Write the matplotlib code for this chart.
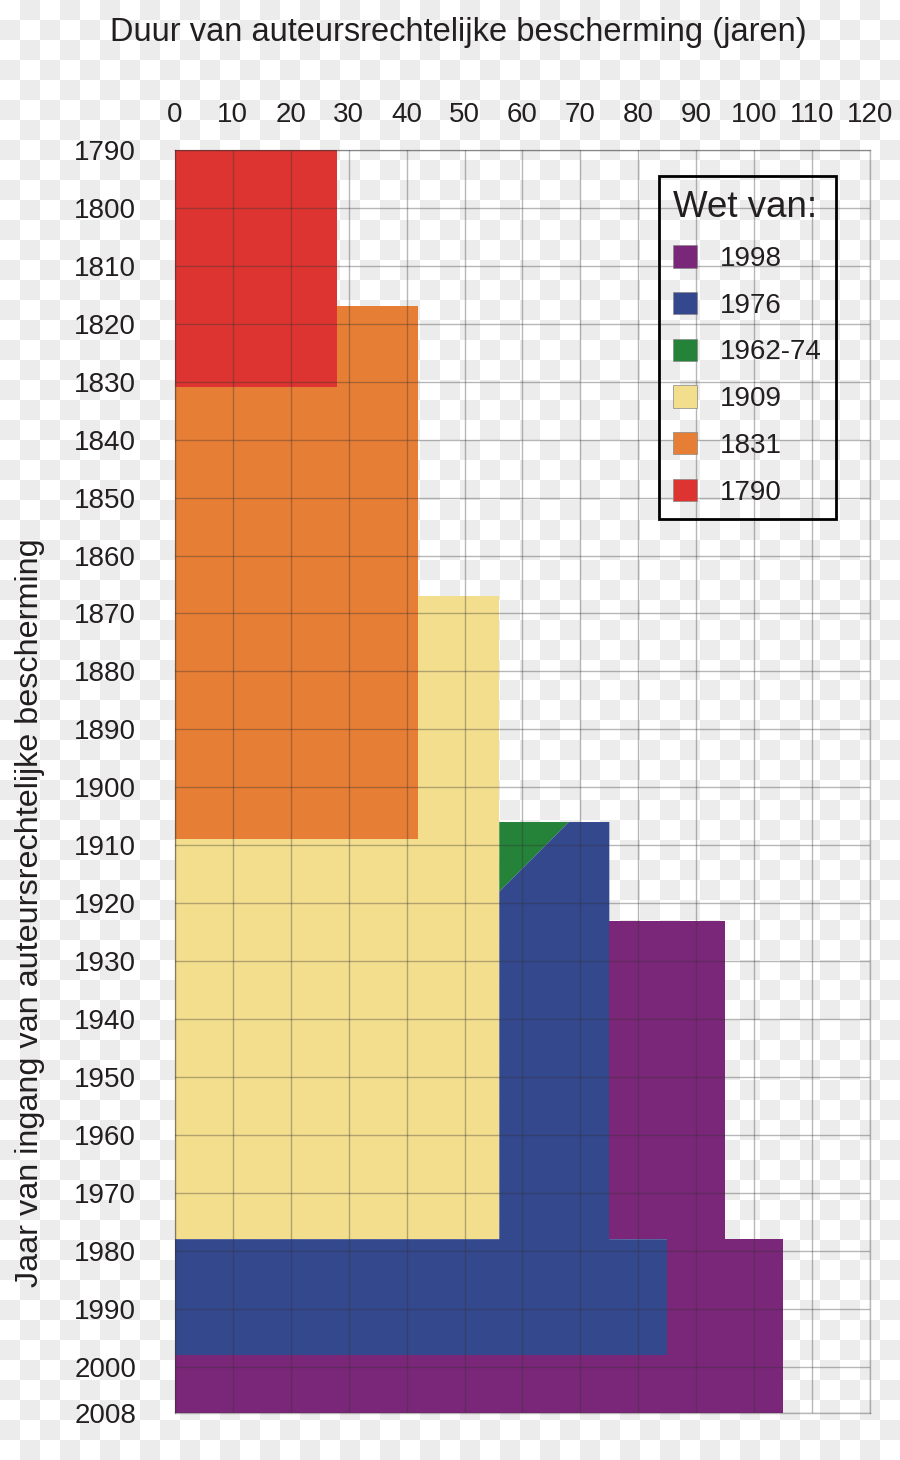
import numpy as np
import matplotlib.pyplot as plt
from matplotlib.colors import ListedColormap
from matplotlib.patches import Patch

plt.rcParams['font.family'] = ['Liberation Sans', 'DejaVu Sans']
plt.rcParams['text.color'] = '#231F20'
plt.rcParams['xtick.color'] = '#231F20'
plt.rcParams['ytick.color'] = '#231F20'

# Regions per law: duration (years) and year protection starts
red_duur = [0, 28, 28, 0]
red_jaar = [1790, 1790, 1831, 1831]

orange_duur = [28, 42, 42, 0, 0, 28]
orange_jaar = [1817, 1817, 1909, 1909, 1831, 1831]

yellow_duur = [42, 56, 56, 0, 0, 42]
yellow_jaar = [1867, 1867, 1978, 1978, 1909, 1909]

green_duur = [56, 68, 56]
green_jaar = [1906, 1906, 1918]

blue_duur = [56, 68, 75, 75, 85, 85, 0, 0, 56]
blue_jaar = [1918, 1906, 1906, 1978, 1978, 1998, 1998, 1978, 1978]

purple_duur = [75, 95, 95, 105, 105, 0, 0, 85, 85, 75]
purple_jaar = [1923, 1923, 1978, 1978, 2008, 2008, 1998, 1998, 1978, 1978]

wetten = ['1998', '1976', '1962-74', '1909', '1831', '1790']
kleuren = ['#7B2779', '#34488E', '#258239', '#F3DE8E', '#E77E35', '#DD3431']

x_ticks = list(range(0, 121, 10))
y_ticks = list(range(1790, 2001, 10)) + [2008]

fig = plt.figure(figsize=(9, 14.6), dpi=100)

# checkerboard background
bg = fig.add_axes([0, 0, 1, 1], zorder=-1)
checker = np.indices((73, 45)).sum(axis=0) % 2
bg.imshow(checker, cmap=ListedColormap(['#FFFFFF', '#ECECEC']),
          interpolation='nearest', aspect='auto')
bg.axis('off')

ax = fig.add_axes([0.1944, 0.0322, 0.7722, 0.8651])
ax.patch.set_alpha(0)

ax.fill(red_duur, red_jaar, color=kleuren[5], lw=0)
ax.fill(orange_duur, orange_jaar, color=kleuren[4], lw=0)
ax.fill(yellow_duur, yellow_jaar, color=kleuren[3], lw=0)
ax.fill(green_duur, green_jaar, color=kleuren[2], lw=0)
ax.fill(blue_duur, blue_jaar, color=kleuren[1], lw=0)
ax.fill(purple_duur, purple_jaar, color=kleuren[0], lw=0)

ax.set_xlim(0, 120)
ax.set_ylim(2008, 1790)
ax.xaxis.tick_top()
ax.set_xticks(x_ticks)
ax.set_yticks(y_ticks)
ax.tick_params(length=0, labelsize=20)
ax.tick_params(axis='x', pad=16)
ax.tick_params(axis='y', pad=28)
ax.set_axisbelow(False)
ax.grid(True, color='#333333', alpha=0.35, lw=1)
for s in ax.spines.values():
    s.set_color('#333333')
    s.set_alpha(0.35)
    s.set_linewidth(1)

handles = [Patch(facecolor=c, edgecolor='#888888', lw=0.5) for c in kleuren]
leg = ax.legend(handles, wetten, title='Wet van:', loc='upper right',
                bbox_to_anchor=(0.951, 0.979), borderaxespad=0,
                fontsize=20, title_fontsize=26.5, fancybox=False,
                framealpha=0, edgecolor='black', handlelength=0.85,
                handleheight=0.85, handletextpad=0.85, labelspacing=0.72,
                borderpad=0.5, alignment='left')
leg.get_frame().set_linewidth(2)
leg.get_frame().set_alpha(None)
leg.get_frame().set_facecolor('none')

fig.text(0.509, 0.978, 'Duur van auteursrechtelijke bescherming (jaren)',
         ha='center', va='center', fontsize=23.5)
fig.text(0.033, 0.375, 'Jaar van ingang van auteursrechtelijke bescherming',
         ha='center', va='center', rotation=90, fontsize=23.3)

fig.savefig('out.png', dpi=100)
